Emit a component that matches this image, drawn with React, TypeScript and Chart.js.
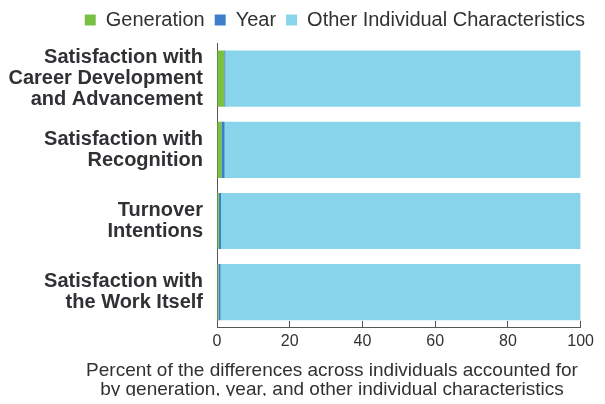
import React, { useEffect, useRef } from "react";
import { Chart, registerables } from "chart.js";

Chart.register(...registerables);

const categories: string[][] = [
  ["Satisfaction with", "Career Development", "and Advancement"],
  ["Satisfaction with", "Recognition"],
  ["Turnover", "Intentions"],
  ["Satisfaction with", "the Work Itself"],
];
const generation = [2.0, 1.2, 0.5, 0.4];
const year = [0.3, 0.9, 0.6, 0.6];
const other = [97.7, 97.9, 98.9, 99.0];
const xTicks = [0, 20, 40, 60, 80, 100];
const xTitle = [
  "Percent of the differences across individuals accounted for",
  "by generation, year, and other individual characteristics",
];

const FONT = "'Liberation Sans', Arial, Helvetica, sans-serif";
const TEXT = "#303134";
const AXIS = "#555";

const legendSpacing = {
  id: "legendSpacing",
  beforeInit(chart: any) {
    const legend = chart.legend;
    if (!legend) return;
    const orig = legend.fit;
    legend.fit = function () {
      orig.call(this);
      this.height += 3;
    };
  },
};

// x-axis title drawn without the scale-width squeeze
const xTitlePlugin = {
  id: "xTitleWide",
  afterDraw(chart: any) {
    const ctx = chart.ctx;
    const xs = chart.scales.x;
    ctx.save();
    ctx.font = `19px ${FONT}`;
    ctx.fillStyle = TEXT;
    ctx.textAlign = "center";
    ctx.textBaseline = "middle";
    xTitle.forEach((line, i) => ctx.fillText(line, 324, xs.bottom + 8.5 + i * 19));
    ctx.restore();
  },
};

export default function App() {
  const ref = useRef<HTMLCanvasElement>(null);
  useEffect(() => {
    const chart = new Chart(ref.current!, {
      type: "bar",
      data: {
        labels: categories,
        datasets: [
          { label: "Generation", data: generation, backgroundColor: "#7ac143" },
          { label: "Year", data: year, backgroundColor: "#3d80c9" },
          { label: "Other Individual Characteristics", data: other, backgroundColor: "#87d4eb" },
        ],
      },
      plugins: [legendSpacing, xTitlePlugin],
      options: {
        indexAxis: "y",
        animation: false,
        responsive: true,
        maintainAspectRatio: false,
        layout: { padding: { left: 0, right: 10, top: 0, bottom: 42 } },
        datasets: { bar: { barPercentage: 0.79, categoryPercentage: 1 } },
        plugins: {
          tooltip: { enabled: false },
          legend: {
            position: "top",
            align: "end",
            labels: {
              boxWidth: 11,
              boxHeight: 11,
              padding: 10,
              color: TEXT,
              font: { family: FONT, size: 20 },
            },
          },
        },
        scales: {
          x: {
            stacked: true,
            min: 0,
            max: 100,
            afterBuildTicks: (s: any) => {
              s.ticks = xTicks.map((v) => ({ value: v }));
            },
            grid: { display: true, drawOnChartArea: false, drawTicks: true, tickLength: -7, color: AXIS },
            border: { color: AXIS },
            ticks: {
              color: TEXT,
              padding: 11,
              font: { family: FONT, size: 16 },
            },
          },
          y: {
            stacked: true,
            afterFit: (s: any) => {
              s.width = 209;
            },
            grid: { display: false, drawTicks: false },
            border: { color: AXIS },
            ticks: {
              color: TEXT,
              padding: 14,
              font: { family: FONT, size: 20, weight: "bold", lineHeight: 1.05 },
            },
          },
        },
      },
    } as any);
    return () => chart.destroy();
  }, []);
  return (
    <div style={{ width: 597, height: 404, marginTop: -8, marginBottom: -8 }}>
      <canvas ref={ref} />
    </div>
  );
}
